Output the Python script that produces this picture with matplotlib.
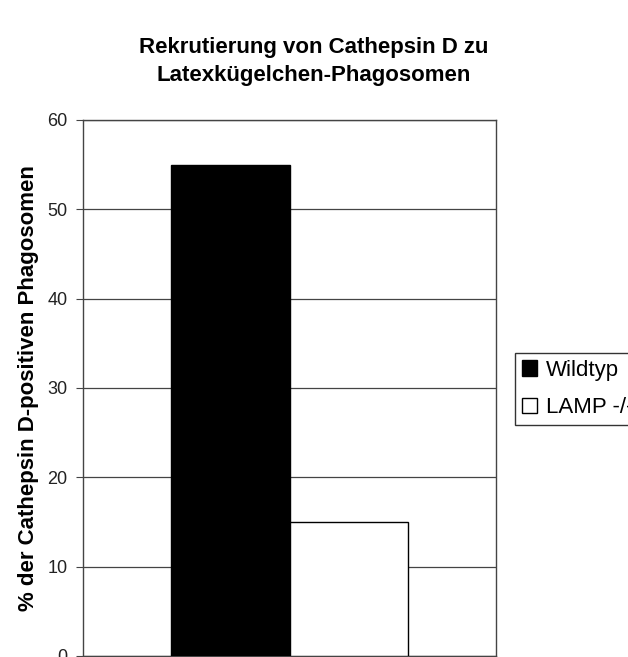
import matplotlib
matplotlib.use('Agg')
import matplotlib.pyplot as plt
from matplotlib.patches import Patch

plt.rcParams['font.family'] = ['Liberation Sans', 'DejaVu Sans']

# Daten
serien = ['Wildtyp', 'LAMP -/-']
werte = [55, 15]
farben = ['black', 'white']
y_ticks = [0, 10, 20, 30, 40, 50, 60]

fig = plt.figure(figsize=(6.28, 6.57), dpi=100)
ax = fig.add_axes([83/628, 1 - 656/657, 413/628, 536/657])

w = 0.287
xs = [0.5 - w/2, 0.5 + w/2]
for x, v, c in zip(xs, werte, farben):
    ax.bar(x, v, width=w, color=c, edgecolor='black', linewidth=1, zorder=3)

ax.set_xlim(0, 1)
ax.set_ylim(0, 60)
ax.set_yticks(y_ticks)
ax.set_xticks([])
ax.yaxis.grid(True, color='#444444', linewidth=0.9, zorder=0)
ax.tick_params(axis='y', direction='out', length=5, color='#444444', labelsize=13,
               labelcolor='#222222', pad=6)
for s in ax.spines.values():
    s.set_color('#444444')
    s.set_linewidth(1)

ax.set_ylabel('% der Cathepsin D-positiven Phagosomen', fontsize=16, fontweight='bold', labelpad=6)

fig.text(0.5, 1 - 47/657, 'Rekrutierung von Cathepsin D zu', ha='center', va='center',
         fontsize=16, fontweight='bold')
fig.text(0.5, 1 - 75/657, 'Latexkügelchen-Phagosomen', ha='center', va='center',
         fontsize=16, fontweight='bold')

handles = [Patch(facecolor=c, edgecolor='black', label=s) for s, c in zip(serien, farben)]
leg = fig.legend(handles=handles, loc='upper left', bbox_to_anchor=(515/628, 1 - 353/657),
                 fontsize=16, frameon=True, fancybox=False, handlelength=0.7, handleheight=0.7,
                 handletextpad=0.4, borderpad=0.3, labelspacing=0.75, borderaxespad=0)
leg.get_frame().set_edgecolor('black')
leg.get_frame().set_linewidth(1)

fig.savefig('out.png', dpi=100)
